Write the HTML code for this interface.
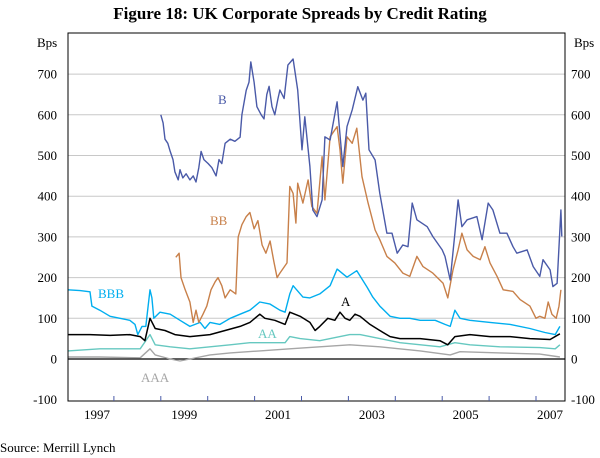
<!DOCTYPE html>
<html><head><meta charset="utf-8">
<style>
body{margin:0;background:#fff;}
svg{display:block;font-family:"Liberation Serif",serif;}
</style></head>
<body>
<svg id="chart" width="600" height="458" viewBox="0 0 600 458">
<text x="300" y="19" text-anchor="middle" font-size="17" font-weight="bold">Figure 18: UK Corporate Spreads by Credit Rating</text>
<g id="grid"></g>
<g id="series"></g>
<rect x="68" y="33" width="497" height="368" fill="none" stroke="#000" stroke-width="1"/>
<g id="axes"></g>
<text x="37" y="47" font-size="13">Bps</text>
<text x="574" y="47" font-size="13">Bps</text>
<text x="218" y="104" font-size="13" fill="#4a5aa8">B</text>
<text x="210" y="225" font-size="13" fill="#c8804a">BB</text>
<text x="98" y="298" font-size="13" fill="#00aeef">BBB</text>
<text x="341" y="306" font-size="13" fill="#000">A</text>
<text x="258" y="338" font-size="13" fill="#66c8c0">AA</text>
<text x="141" y="382" font-size="13" fill="#a6a6a6">AAA</text>
<text x="0" y="452" font-size="13">Source: Merrill Lynch</text>
</svg>
<script>
const yTicks=[700,600,500,400,300,200,100,0,-100];
const yearLabels=[1997,1999,2001,2003,2005,2007];
const yearTicks=[1998,1999,2000,2001,2002,2003,2004,2005,2006,2007];
const bDates=[1999.00,1999.05,1999.09,1999.15,1999.20,1999.26,1999.30,1999.37,1999.41,1999.47,1999.54,1999.62,1999.69,1999.75,1999.81,1999.86,1999.92,2000.01,2000.09,2000.18,2000.24,2000.30,2000.37,2000.48,2000.58,2000.69,2000.73,2000.82,2000.88,2000.92,2000.99,2001.05,2001.14,2001.20,2001.26,2001.31,2001.37,2001.43,2001.50,2001.54,2001.63,2001.71,2001.82,2001.92,2002.01,2002.07,2002.18,2002.24,2002.33,2002.44,2002.50,2002.61,2002.76,2002.88,2002.97,2003.08,2003.20,2003.31,2003.37,2003.44,2003.57,2003.67,2003.82,2003.93,2004.04,2004.16,2004.27,2004.36,2004.46,2004.68,2004.80,2005.00,2005.06,2005.17,2005.27,2005.34,2005.42,2005.53,2005.74,2005.85,2005.98,2006.08,2006.23,2006.38,2006.51,2006.59,2006.81,2006.94,2007.08,2007.15,2007.30,2007.36,2007.45,2007.49,2007.53,2007.55];
const bVals=[600,580,540,530,510,490,460,440,465,445,455,440,450,435,470,510,490,480,470,450,490,480,530,540,535,545,600,660,680,730,680,620,600,590,650,670,620,600,640,661,640,722,737,661,514,595,473,366,350,391,546,538,632,473,571,612,669,636,653,514,489,407,309,309,260,280,276,383,342,325,301,268,252,194,309,391,325,342,350,293,383,366,309,309,276,260,268,227,203,244,219,178,186,276,366,301];
const bbDates=[1999.32,1999.39,1999.43,1999.52,1999.62,1999.69,1999.75,1999.81,1999.90,1999.98,2000.07,2000.16,2000.22,2000.30,2000.37,2000.48,2000.60,2000.65,2000.73,2000.82,2000.90,2000.99,2001.07,2001.16,2001.24,2001.33,2001.41,2001.48,2001.54,2001.69,2001.75,2001.82,2001.88,2001.92,2002.03,2002.14,2002.22,2002.33,2002.44,2002.50,2002.61,2002.76,2002.82,2002.88,2002.97,2003.08,2003.18,2003.29,2003.42,2003.57,2003.67,2003.82,2003.99,2004.16,2004.31,2004.46,2004.59,2004.80,2005.02,2005.12,2005.23,2005.34,2005.42,2005.53,2005.66,2005.81,2005.91,2006.02,2006.17,2006.30,2006.51,2006.66,2006.87,2007.00,2007.08,2007.19,2007.26,2007.34,2007.43,2007.49,2007.53];
const bbVals=[250,260,200,170,140,90,120,90,110,130,170,190,200,180,150,170,160,300,330,350,360,320,340,280,260,290,240,200,211,236,424,407,334,432,383,440,375,358,497,391,546,571,514,432,546,530,567,448,383,317,293,252,236,211,203,252,227,211,186,150,219,268,309,268,252,244,276,236,203,170,166,146,130,100,105,100,140,110,100,130,170];
const bbbDates=[1997.02,1997.28,1997.49,1997.53,1997.70,1997.92,1998.13,1998.34,1998.45,1998.51,1998.60,1998.68,1998.77,1998.81,1998.85,1998.98,1999.20,1999.41,1999.62,1999.84,1999.94,2000.05,2000.26,2000.48,2000.69,2000.90,2001.11,2001.33,2001.54,2001.65,2001.75,2001.82,2002.03,2002.18,2002.39,2002.61,2002.76,2002.97,2003.18,2003.40,2003.52,2003.67,2003.89,2004.10,2004.31,2004.53,2004.85,2005.06,2005.17,2005.27,2005.38,2005.59,2006.02,2006.45,2006.87,2007.19,2007.41,2007.51];
const bbbVals=[170,168,165,130,120,105,100,95,85,60,80,80,170,150,100,115,110,95,80,90,75,90,85,100,110,120,140,135,120,115,160,180,152,150,160,180,221,201,217,176,152,130,105,100,100,95,95,85,80,120,100,95,90,85,75,65,60,80];
const aDates=[1997.02,1997.49,1997.92,1998.34,1998.56,1998.66,1998.77,1998.88,1999.09,1999.30,1999.62,2000.05,2000.37,2000.69,2000.90,2001.11,2001.22,2001.43,2001.65,2001.75,2001.97,2002.18,2002.29,2002.39,2002.56,2002.71,2002.82,2002.93,2003.03,2003.14,2003.25,2003.46,2003.67,2003.89,2004.10,2004.53,2004.95,2005.12,2005.27,2005.59,2006.02,2006.45,2006.87,2007.30,2007.51];
const aVals=[60,60,58,60,55,45,100,75,70,60,55,60,70,80,90,110,100,95,85,115,105,90,70,80,100,95,115,100,95,110,105,85,70,55,50,50,45,35,55,60,55,55,50,48,62];
const aaDates=[1997.02,1997.70,1998.56,1998.77,1998.88,1999.20,1999.62,2000.05,2000.48,2000.90,2001.33,2001.65,2001.75,2001.97,2002.39,2002.82,2003.03,2003.25,2003.67,2004.10,2004.95,2005.27,2005.59,2006.23,2007.08,2007.41,2007.51];
const aaVals=[20,25,25,60,35,30,25,30,35,40,40,40,55,50,45,55,60,60,50,40,30,40,35,30,28,25,35];
const aaaDates=[1997.02,1997.70,1998.56,1998.77,1998.88,1999.20,1999.41,1999.62,2000.05,2000.48,2001.11,2001.75,2002.39,2003.03,2003.67,2004.53,2005.17,2005.38,2006.23,2007.08,2007.51];
const aaaVals=[5,5,3,25,10,0,-5,0,10,15,20,25,30,35,30,20,10,18,15,12,5];

const NS="http://www.w3.org/2000/svg";
const X0=67,PXY=46.9,Y0=359,PXV=0.407;
function xs(yr){return X0+(yr-1997)*PXY;}
function ys(v){return Y0-v*PXV;}
const grid=document.getElementById('grid'),axes=document.getElementById('axes'),ser=document.getElementById('series');
yTicks.forEach(t=>{
  const y=ys(t);
  if(t!==-100){
    const l=document.createElementNS(NS,'line');
    l.setAttribute('x1',68);l.setAttribute('x2',565);l.setAttribute('y1',y);l.setAttribute('y2',y);
    l.setAttribute('stroke',t===0?'#000':'#c8c8c8');l.setAttribute('stroke-width',t===0?1.2:1);
    
    
    grid.appendChild(l);
  }
  const a=document.createElementNS(NS,'text');
  a.setAttribute('x',57);a.setAttribute('y',y+4.5);a.setAttribute('text-anchor','end');a.setAttribute('font-size','13');a.textContent=t;
  
  
  axes.appendChild(a);
  const b=document.createElementNS(NS,'text');
  b.setAttribute('x',571);b.setAttribute('y',y+4.5);b.setAttribute('font-size','13');b.textContent=t;
  
  
  axes.appendChild(b);
});
yearTicks.forEach(yr=>{
  const x=xs(yr);
  const l=document.createElementNS(NS,'line');
  l.setAttribute('x1',x);l.setAttribute('x2',x);l.setAttribute('y1',401);l.setAttribute('y2',396);
  l.setAttribute('stroke','#4a5aa8');l.setAttribute('stroke-width',1);
  
  
  axes.appendChild(l);
});
yearLabels.forEach(yr=>{
  const t=document.createElementNS(NS,'text');
  let x=xs(yr+0.5); if(yr===1997)x=97; if(yr===2007)x=550;
  t.setAttribute('x',x);t.setAttribute('y',419);t.setAttribute('text-anchor','middle');t.setAttribute('font-size','13');t.textContent=yr;
  
  
  axes.appendChild(t);
});
function line(dates,vals,color,name,w){
  const p=document.createElementNS(NS,'polyline');
  p.setAttribute('points',dates.map((d,i)=>xs(d).toFixed(1)+','+ys(vals[i]).toFixed(1)).join(' '));
  p.setAttribute('fill','none');p.setAttribute('stroke',color);p.setAttribute('stroke-width',w);p.setAttribute('stroke-linejoin','round');
  
  
  ser.appendChild(p);
}
line(aaaDates,aaaVals,'#a6a6a6','series-aaa',1.4);
line(aaDates,aaVals,'#66c8c0','series-aa',1.4);
line(aDates,aVals,'#000000','series-a',1.5);
line(bbbDates,bbbVals,'#00aeef','series-bbb',1.4);
line(bbDates,bbVals,'#c8804a','series-bb',1.4);
line(bDates,bVals,'#4a5aa8','series-b',1.4);
</script>
</body></html>
